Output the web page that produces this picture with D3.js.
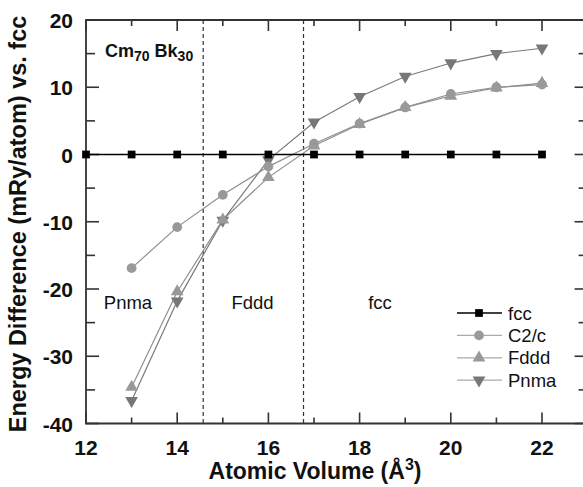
<!DOCTYPE html>
<html>
<head>
<meta charset="utf-8">
<script src="https://cdn.jsdelivr.net/npm/d3@7"></script>
<style>
  body { margin: 0; background: #fff; }
  svg { display: block; font-family: "Liberation Sans", Arial, sans-serif; }
</style>
</head>
<body>
<svg id="chart" width="583" height="487"></svg>
<script>
const volumes = [12, 13, 14, 15, 16, 17, 18, 19, 20, 21, 22];
const fccVals = [0, 0, 0, 0, 0, 0, 0, 0, 0, 0, 0];
const c2cVals = [null, -16.9, -10.8, -6.0, -1.8, 1.6, 4.6, 7.0, 9.0, 10.0, 10.4];
const fdddVals = [null, -34.6, -20.4, -9.7, -3.4, 1.3, 4.5, 7.0, 8.7, 9.9, 10.6];
const pnmaVals = [null, -36.6, -21.8, -9.8, -0.8, 4.8, 8.6, 11.6, 13.6, 15.0, 15.8];
const xTicks = [12, 14, 16, 18, 20, 22];
const yTicks = [-40, -30, -20, -10, 0, 10, 20];
const phaseBounds = [14.57, 16.77];

const margin = { top: 20, left: 86, bottom: 63 };
const W = 583, H = 487;
const svg = d3.select("#chart");

const x = d3.scaleLinear().domain([12, 23]).range([margin.left, margin.left + 11 * 45.6]);
const y = d3.scaleLinear().domain([-40, 20]).range([H - margin.bottom - 0.5, margin.top]);

const series = [
  { name: "fcc", vals: fccVals, sym: d3.symbolSquare, size: 60, color: "#000", line: "#000", lw: 1.6, rot: 0 },
  { name: "C2/c", vals: c2cVals, sym: d3.symbolCircle, size: 75, color: "#999", line: "#8f8f8f", lw: 1.2, rot: 0 },
  { name: "Fddd", vals: fdddVals, sym: d3.symbolTriangle, size: 70, color: "#999", line: "#8f8f8f", lw: 1.2, rot: 0 },
  { name: "Pnma", vals: pnmaVals, sym: d3.symbolTriangle, size: 70, color: "#777", line: "#7a7a7a", lw: 1.2, rot: 180 }
];

// frame
const x0 = x(12), x1 = x(23), y0 = y(-40), y1 = y(20);
svg.append("path")
  .attr("d", `M${x1},${y1}H${x0}V${y0}H${x1}V${y1}`)
  .attr("fill", "none").attr("stroke", "#333").attr("stroke-width", 1.8);

// ticks (inward)
const tickG = svg.append("g").attr("stroke", "#333").attr("stroke-width", 1.6);
d3.range(12, 23.5, 1).forEach(v => {
  const len = v % 2 === 0 ? 11 : 6;
  tickG.append("line").attr("x1", x(v)).attr("x2", x(v)).attr("y1", y0).attr("y2", y0 - len);
  tickG.append("line").attr("x1", x(v)).attr("x2", x(v)).attr("y1", y1).attr("y2", y1 + len);
});
d3.range(-40, 20.5, 5).forEach(v => {
  const len = v % 10 === 0 ? 13 : 9;
  tickG.append("line").attr("x1", x0).attr("x2", x0 + len).attr("y1", y(v)).attr("y2", y(v));
  tickG.append("line").attr("x1", x1).attr("x2", x1 - len).attr("y1", y(v)).attr("y2", y(v));
});

// tick labels
svg.append("g").selectAll("text").data(xTicks).join("text")
  .attr("x", d => x(d)).attr("y", 455)
  .attr("text-anchor", "middle")
  .attr("font-size", 21).attr("font-weight", "bold").attr("fill", "#111")
  .text(d => d);
svg.append("g").selectAll("text").data(yTicks).join("text")
  .attr("x", 73).attr("y", d => y(d) + 8)
  .attr("text-anchor", "end")
  .attr("font-size", 21).attr("font-weight", "bold").attr("fill", "#111")
  .text(d => d);

// axis titles
svg.append("text")
  .attr("x", 315).attr("y", 479)
  .attr("text-anchor", "middle")
  .attr("font-size", 23).attr("font-weight", "bold").attr("fill", "#111")
  .html('Atomic Volume (Å<tspan dy="-9" font-size="16">3</tspan><tspan dy="9">)</tspan>');
svg.append("text")
  .attr("transform", "translate(26,224) rotate(-90)")
  .attr("text-anchor", "middle")
  .attr("font-size", 23.5).attr("font-weight", "bold").attr("fill", "#111")
  .text("Energy Difference (mRy/atom) vs. fcc");

// phase boundaries
svg.append("g").selectAll("line").data(phaseBounds).join("line")
  .attr("x1", d => x(d)).attr("x2", d => x(d))
  .attr("y1", y1).attr("y2", y0)
  .attr("stroke", "#333").attr("stroke-width", 1.2)
  .attr("stroke-dasharray", "4,3");

// region labels
svg.append("text").attr("x", 105).attr("y", 57)
  .attr("font-size", 18).attr("font-weight", "bold").attr("fill", "#111")
  .html('Cm<tspan dy="4" font-size="14">70</tspan><tspan dy="-4"> Bk</tspan><tspan dy="4" font-size="14">30</tspan>');
[["Pnma", 128], ["Fddd", 252.5], ["fcc", 380]].forEach(([t, cx]) => {
  svg.append("text").attr("x", cx).attr("y", 309)
    .attr("text-anchor", "middle").attr("font-size", 18.5).attr("fill", "#111").text(t);
});

// series
series.slice().reverse().forEach(s => {
  const pts = volumes.map((v, i) => [v, s.vals[i]]).filter(p => p[1] != null);
  svg.append("path")
    .datum(pts)
    .attr("d", d3.line().x(p => x(p[0])).y(p => y(p[1])))
    .attr("fill", "none").attr("stroke", s.line).attr("stroke-width", s.lw);
});
series.slice().reverse().forEach(s => {
  const pts = volumes.map((v, i) => [v, s.vals[i]]).filter(p => p[1] != null);
  svg.append("g").selectAll("path").data(pts).join("path")
    .attr("d", d3.symbol().type(s.sym).size(s.size))
    .attr("transform", p => `translate(${x(p[0])},${y(p[1])}) rotate(${s.rot})`)
    .attr("fill", s.color);
});

// legend
const leg = svg.append("g").attr("transform", "translate(457,313)");
series.forEach((s, i) => {
  const g = leg.append("g").attr("transform", `translate(0,${i * 22.4})`);
  g.append("line").attr("x1", 0).attr("x2", 45).attr("y1", 0).attr("y2", 0)
    .attr("stroke", i === 0 ? "#000" : "#aaa").attr("stroke-width", s.lw);
  g.append("path")
    .attr("d", d3.symbol().type(s.sym).size(s.size))
    .attr("transform", `translate(22,0) rotate(${s.rot})`)
    .attr("fill", s.color);
  g.append("text").attr("x", 51).attr("y", 6.5)
    .attr("font-size", 18.5).attr("fill", "#111").text(s.name);
});
</script>
</body>
</html>
